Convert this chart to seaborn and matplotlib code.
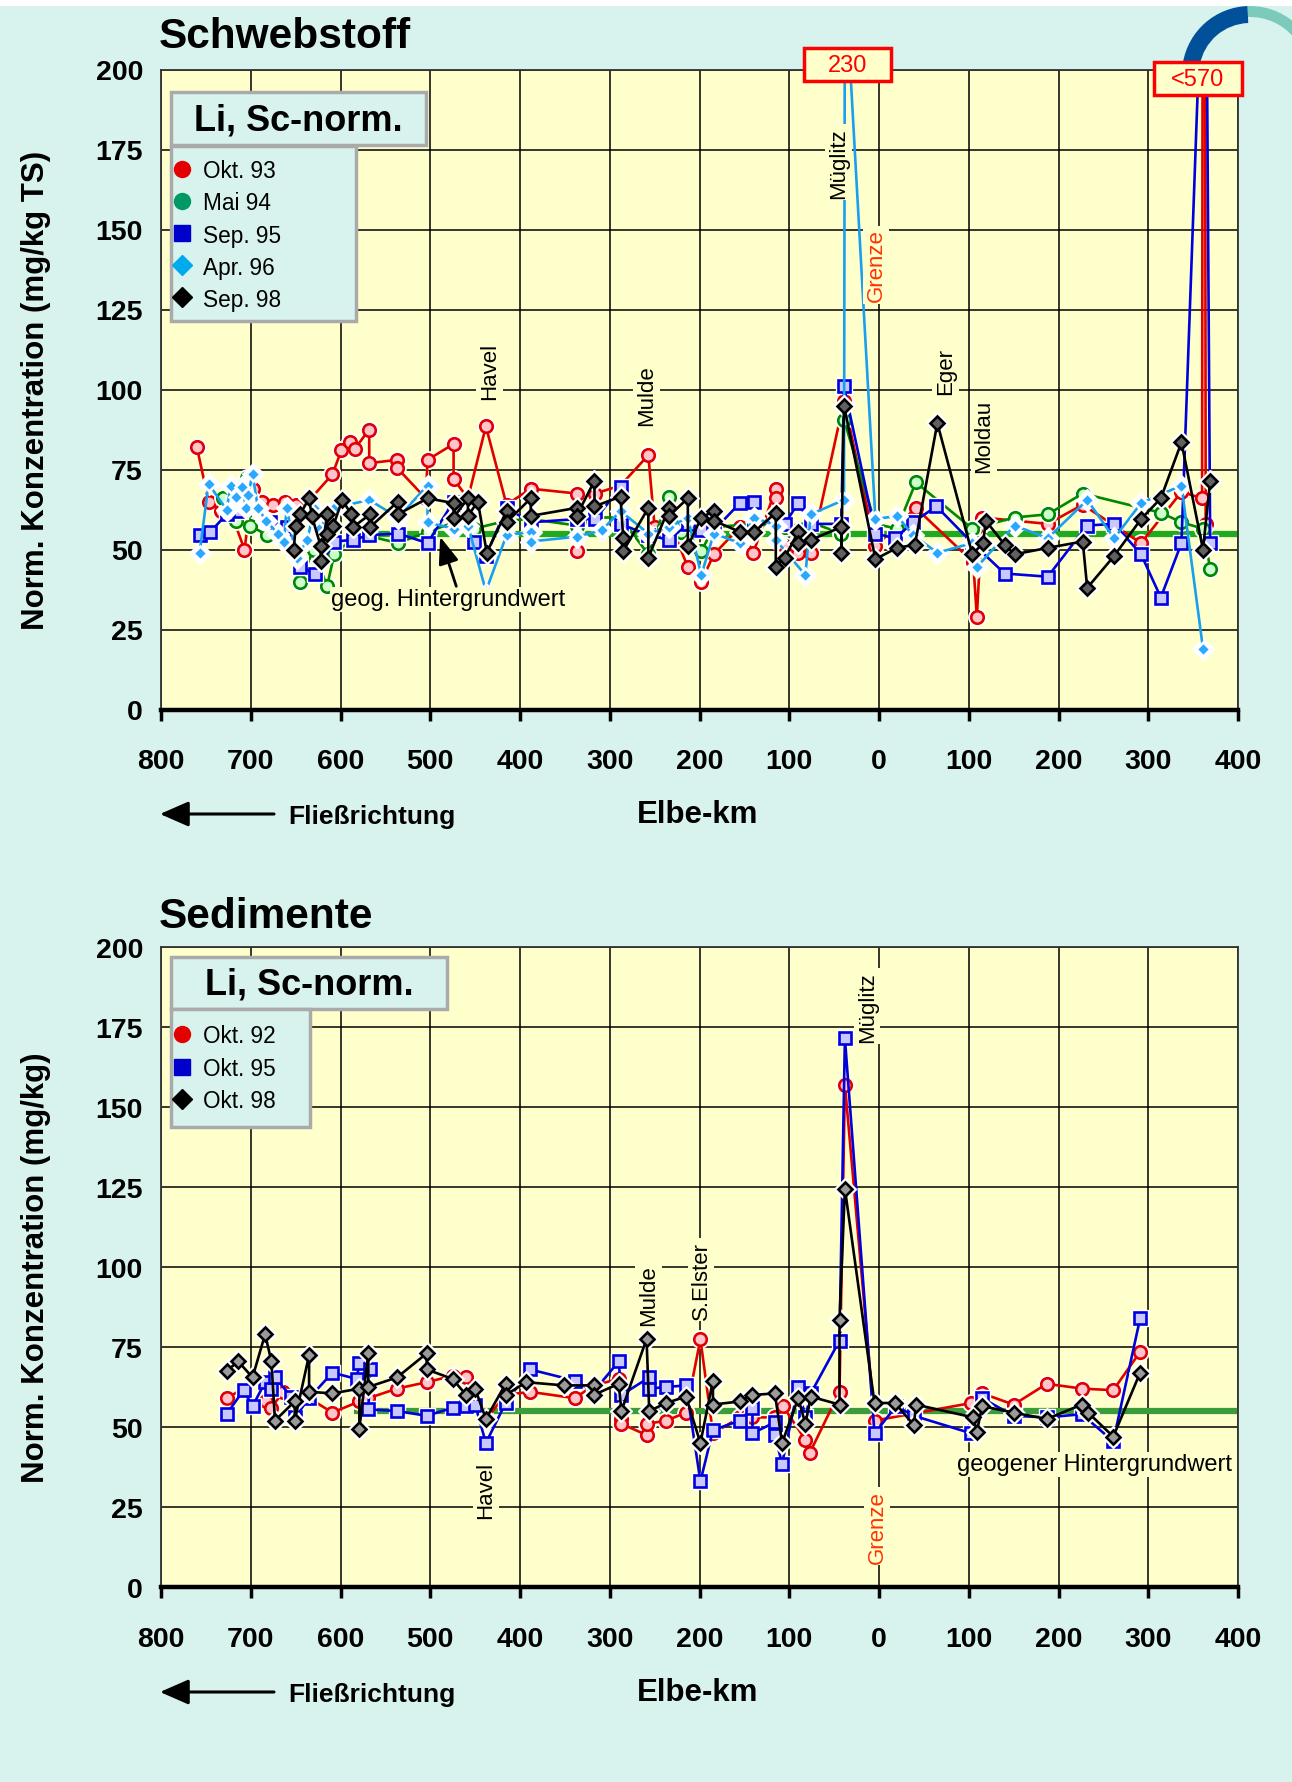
import numpy as np
import seaborn as sns
import matplotlib.pyplot as plt
from matplotlib.patches import Rectangle, Wedge

sns.set_style("white")
plt.rcParams['font.family'] = ['Liberation Sans', 'DejaVu Sans']
plt.rcParams['text.color'] = 'black'
plt.rcParams['axes.labelcolor'] = 'black'
plt.rcParams['xtick.color'] = 'black'
plt.rcParams['ytick.color'] = 'black'

# ---------------- data: Schwebstoff (suspended matter) ----------------
# x: Elbe-km, negative = German km below the border, positive = Czech km
ss93_km = [-760, -747, -733, -720, -707, -698, -688, -675, -662, -650, -636, -609, -599, -589, -584,
           -568, -568, -537, -537, -505, -503, -474, -474, -458, -438, -415, -388, -337, -337, -316,
           -288, -257, -250, -228, -213, -198, -184, -155, -140, -115, -115, -105, -90, -76, -39,
           -4, 41, 105, 109, 115, 188, 227, 292, 337, 360, 362, 364]
ss93_val = [82, 65, 62, 60, 50, 69, 65, 64, 65, 64, 65, 73.5, 81, 83.5, 81.5,
            87.5, 77, 78, 75.5, 66, 78, 83, 72, 66, 88.5, 64, 69, 67.5, 49.5, 67.5,
            70, 79.5, 57, 55, 44.5, 40, 48.5, 57, 49, 69, 66, 51, 49, 49, 96.5,
            51, 63, 46, 29, 60, 58, 64, 52, 68, 66, 570, 58]

ss94_km = [-731, -721, -716, -704, -701, -682, -660, -645, -630, -615, -607, -580, -536, -503, -473,
           -451, -415, -388, -337, -316, -288, -257, -234, -221, -198, -184, -139, -105, -76, -42,
           -39, -4, 20, 41, 104, 151, 188, 227, 314, 337, 361, 369]
ss94_val = [66, 60.5, 59, 72.5, 57.5, 54.5, 56, 40, 50, 38.5, 48.5, 55, 52, 55.5, 58.5,
            56.5, 59, 59.5, 57.5, 60, 60, 48.5, 66.5, 55.5, 49.5, 57, 58, 57, 58.5, 55,
            90.5, 58, 56.5, 71, 56.5, 60, 61, 67.5, 61.5, 58.5, 56.5, 44]

ss95_km = [-757, -745, -727, -712, -700, -678, -660, -645, -628, -607, -586, -568, -536, -503, -474,
           -451, -438, -415, -388, -337, -316, -288, -288, -257, -234, -213, -198, -184, -155, -139,
           -139, -105, -90, -76, -42, -39, -4, 18, 38, 64, 104, 140, 188, 232, 262,
           292, 314, 337, 364, 369]
ss95_val = [54.5, 55.5, 61, 62, 63.5, 58.5, 57, 44.5, 42.5, 52.5, 53, 54.5, 55, 52, 65,
            52.5, 48, 63, 58.5, 59.5, 59.5, 69.5, 58, 54.5, 53, 58, 56, 56, 64.5, 65,
            59, 58, 64.5, 58, 58, 101, 55, 53.5, 58.5, 63.5, 52, 42.5, 41.5, 57.5, 58,
            48.5, 35, 52, 263, 52]

ss96_km = [-757, -747, -727, -722, -716, -710, -705, -703, -698, -692, -683, -670, -663, -660, -649,
           -637, -629, -624, -607, -568, -536, -503, -503, -474, -458, -438, -415, -388, -388, -337,
           -309, -288, -257, -234, -213, -198, -184, -155, -139, -115, -115, -82, -76, -39, -38,
           -4, 20, 38, 65, 104, 109, 151, 188, 232, 262, 292, 337, 361]
ss96_val = [49, 70.5, 62.5, 70, 66.5, 69.5, 63, 67, 73.5, 63, 59, 55, 52.5, 63, 47.5,
            53, 63, 56.5, 63, 65.5, 60, 70, 58.5, 56.5, 57.5, 37, 54.5, 55.5, 52.5, 54,
            56, 62, 55, 57, 60, 42, 55, 52, 60, 57.5, 53, 42, 61, 65.5, 230,
            59.5, 60.5, 54.5, 49, 52, 44.5, 57.5, 53.5, 65.5, 53.5, 64.5, 70, 19]

ss98_km = [-652, -650, -645, -635, -632, -622, -622, -615, -615, -608, -598, -588, -586, -567, -567,
           -536, -536, -503, -474, -474, -458, -458, -447, -437, -415, -415, -388, -388, -337, -337,
           -317, -317, -288, -285, -285, -257, -257, -234, -234, -213, -213, -198, -184, -184, -155,
           -139, -115, -115, -105, -90, -90, -76, -42, -42, -39, -4, 20, 40, 65, 104,
           116, 119, 140, 151, 188, 227, 232, 262, 292, 314, 337, 361, 369]
ss98_val = [50, 57.5, 61, 66, 60.5, 51, 46.5, 61, 55, 57.5, 65.5, 61, 57, 61, 57,
            65, 61, 66, 64.5, 60, 66, 60.5, 65, 49, 62, 58.5, 66, 60.5, 63, 60.5,
            71.5, 63.5, 66.5, 53.5, 49.5, 63, 47.5, 63, 60.5, 66, 51, 60, 62, 59, 55.5,
            55.5, 61.5, 44.5, 47.5, 55.5, 52, 53, 57, 49, 95, 47, 50.5, 51.5, 89.5, 48.5,
            52, 59, 51.5, 48.5, 50.5, 52.5, 38, 48, 59.5, 66, 83.5, 50, 71.5]

# ---------------- data: Sedimente ----------------
sd92_km = [-727, -708, -698, -683, -677, -664, -651, -635, -609, -579, -569, -537, -504, -475, -460,
           -438, -416, -389, -339, -318, -290, -287, -287, -259, -258, -237, -215, -199, -185, -155,
           -141, -116, -107, -82, -77, -44, -38, -5, 103, 115, 150, 187, 226, 261, 291]
sd92_val = [59, 62, 57, 58, 56, 61, 54, 59, 54.5, 58, 59, 62, 64, 66, 65.5,
            52.5, 60, 61, 59, 63, 65, 52.5, 51, 47.5, 51, 52, 54.5, 77.5, 48, 53,
            53, 53, 56.5, 46, 42, 61, 157, 52, 57.5, 60.5, 57, 63.5, 62, 61.5, 73.5]

sd95_km = [-727, -708, -698, -684, -677, -673, -655, -651, -635, -609, -582, -579, -567, -569, -537,
           -504, -475, -460, -450, -438, -416, -389, -339, -318, -290, -287, -256, -256, -237, -215,
           -199, -185, -155, -141, -141, -116, -116, -108, -90, -82, -76, -44, -38, -5, 19,
           39, 103, 115, 150, 187, 226, 261, 291]
sd95_val = [54, 61.5, 56.5, 64, 62, 65.5, 59.5, 53, 59, 67, 65, 70, 68, 55.5, 55,
            53.5, 56, 56.5, 57, 45, 57.5, 68, 64.5, 61, 70.5, 60, 65.5, 62, 62.5, 63,
            33, 49, 52, 56, 48, 51.5, 47.5, 38.5, 62.5, 53, 60.5, 77, 171.5, 48, 56.5,
            53.5, 48, 59, 53.5, 53, 54, 45.5, 84]

sd98_km = [-727, -714, -698, -684, -677, -673, -651, -651, -635, -635, -609, -579, -579, -569, -569,
           -537, -504, -504, -475, -460, -450, -438, -416, -416, -393, -351, -318, -318, -290, -287,
           -259, -256, -237, -215, -199, -185, -185, -155, -141, -116, -108, -90, -82, -76, -44,
           -44, -38, -5, 18, 39, 41, 105, 109, 115, 150, 187, 226, 233, 261, 291]
sd98_val = [67.5, 70.5, 65.5, 79, 70.5, 52, 58, 52, 72.5, 61, 60.5, 62, 49.5, 73, 62.5,
            65.5, 73, 68, 65, 60, 62, 52.5, 63.5, 60, 64, 63, 63, 60, 63.5, 55,
            77.5, 55, 57.5, 59.5, 45, 64.5, 57, 58, 60, 60.5, 45, 59, 51, 59.5, 57,
            83.5, 124.5, 57.5, 57.5, 50.5, 57, 53, 48.5, 56.5, 54.5, 52.5, 57, 54.5, 47, 67]

# geogenic background value and where its line starts
bg_value = 55
bg_start_top = -570
bg_start_bottom = -585

# tributary labels (name, km, value at text centre)
trib_top_names = ['Havel', 'Mulde', 'Müglitz', 'Grenze', 'Eger', 'Moldau']
trib_top_km = [-434, -259, -45, -3, 74, 117]
trib_top_val = [106, 98.5, 171, 139, 106, 85.5]
trib_bot_names = ['Havel', 'Mulde', 'S.Elster', 'Müglitz', 'Grenze']
trib_bot_km = [-438, -257, -198, -13, -2]
trib_bot_val = [30.5, 91.5, 96, 181.5, 19]

km_ticks = list(range(-800, 401, 100))
y_ticks = list(range(0, 201, 25))

# ---------------- figure ----------------
W, H = 1292, 1783
MINT = '#d8f3ee'
YELLOW = '#ffffcc'
fig = plt.figure(figsize=(W / 100, H / 100), dpi=100, facecolor=MINT)


def px_axes(left, top, right, bottom):
    return fig.add_axes([left / W, 1 - bottom / H, (right - left) / W, (bottom - top) / H])


def style_axes(ax, ylabel):
    ax.set_facecolor(YELLOW)
    ax.set_xlim(-800, 400)
    ax.set_ylim(0, 200)
    ax.set_xticks(km_ticks)
    ax.set_xticklabels([str(abs(t)) for t in km_ticks], fontweight='bold')
    ax.set_yticks(y_ticks)
    ax.set_yticklabels([str(t) for t in y_ticks], fontweight='bold')
    ax.grid(True, color='black', lw=1.1)
    ax.set_axisbelow(True)
    for s in ['top', 'right', 'left']:
        ax.spines[s].set(color='#333333', lw=1.3, visible=True)
    ax.spines['bottom'].set(color='black', lw=3.2, visible=True)
    ax.tick_params(axis='x', bottom=True, length=8, width=2.5, color='black',
                   pad=20, labelsize=20.5, direction='out', labelcolor='black')
    ax.tick_params(axis='y', left=False, length=0, pad=13, labelsize=20.5, labelcolor='black')
    ax.set_xlabel('')
    ax.set_ylabel(ylabel, fontsize=22.5, fontweight='bold', color='black')
    ax.yaxis.set_label_coords(-0.102, 0.5)


def draw_series(ax, xs, ys, line_c, marker, ms, face, edge):
    # white halo behind the markers
    ax.plot(xs, ys, ls='none', marker=marker, ms=ms + 3.5, mfc='white', mec='white', zorder=3)
    sns.lineplot(x=xs, y=ys, ax=ax, sort=False, estimator=None, color=line_c, lw=1.9,
                 marker=marker, markersize=ms, markerfacecolor=face, markeredgecolor=edge,
                 markeredgewidth=1.9, zorder=3)


def trib_labels(ax, names, kms, vals):
    for n, k, v in zip(names, kms, vals):
        ax.text(k, v, n, rotation=90, ha='center', va='center', fontsize=16,
                color='#ff3300' if n == 'Grenze' else 'black', zorder=6,
                bbox=dict(fc=YELLOW, ec='none', pad=2))


# ---- top: Schwebstoff ----
ax1 = px_axes(161, 70.5, 1238, 710.5)
ax1.hlines(bg_value, bg_start_top, 400, color='#1faa1f', lw=4.5, zorder=2.5)
draw_series(ax1, ss93_km, ss93_val, '#e00000', 'o', 9, '#ffc4cc', '#e00000')
draw_series(ax1, ss94_km, ss94_val, '#008800', 'o', 9, '#ccffcc', '#008800')
draw_series(ax1, ss95_km, ss95_val, '#0000dd', 's', 8.5, '#c8c8ff', '#0000dd')
draw_series(ax1, ss96_km, ss96_val, '#1a9fef', 'D', 7.5, '#2aa8ff', 'white')
draw_series(ax1, ss98_km, ss98_val, 'black', 'D', 7.5, '#606060', 'black')
style_axes(ax1, 'Norm. Konzentration (mg/kg TS)')
trib_labels(ax1, trib_top_names, trib_top_km, trib_top_val)
ax1.text(-480, 34.5, 'geog. Hintergrundwert', fontsize=17, ha='center', va='center', zorder=6,
         bbox=dict(fc=YELLOW, ec='none', pad=1))
ax1.annotate('', xy=(-489, 54), xytext=(-471, 38.5), zorder=7,
             arrowprops=dict(arrowstyle='-|>,head_width=0.28,head_length=0.75', color='black',
                             lw=2, mutation_scale=22, shrinkA=0, shrinkB=0))

# ---- bottom: Sedimente ----
ax2 = px_axes(161, 948, 1238, 1588)
ax2.hlines(bg_value, bg_start_bottom, 400, color='#3a9c3a', lw=4.5, zorder=2.5)
draw_series(ax2, sd92_km, sd92_val, '#e00000', 'o', 9, '#ffc4cc', '#e00000')
draw_series(ax2, sd95_km, sd95_val, '#0000dd', 's', 8.5, '#c8c8ff', '#0000dd')
draw_series(ax2, sd98_km, sd98_val, 'black', 'D', 7.5, '#9a9a9a', 'black')
style_axes(ax2, 'Norm. Konzentration (mg/kg)')
trib_labels(ax2, trib_bot_names, trib_bot_km, trib_bot_val)
ax2.text(240, 38.4, 'geogener Hintergrundwert', fontsize=17, ha='center', va='center', zorder=6,
         bbox=dict(fc=YELLOW, ec='none', pad=1))

# ---------------- overlay in pixel coordinates ----------------
ov = fig.add_axes([0, 0, 1, 1])
ov.set_xlim(0, W)
ov.set_ylim(H, 0)
ov.axis('off')

ov.add_patch(Rectangle((0, 0), W, 7, fc='white', ec='none'))

# logo
ov.add_patch(Wedge((1250, 75), 68, 190, 268, width=17, fc='#00509a', ec='none'))
ov.add_patch(Wedge((1250, 75), 68, 268, 320, width=11, fc='#7ccabb', ec='none'))

for y_title, title in [(37, 'Schwebstoff'), (917, 'Sedimente')]:
    ov.text(159, y_title, title, fontsize=30.5, fontweight='bold', ha='left', va='center')

for y_lab in [815, 1693]:
    ov.text(698, y_lab, 'Elbe-km', fontsize=22.5, fontweight='bold', ha='center', va='center')
    ov.text(288, y_lab + 2, 'Fließrichtung', fontsize=19, fontweight='bold', ha='left', va='center')
    ov.annotate('', xy=(160, y_lab), xytext=(274, y_lab),
                arrowprops=dict(arrowstyle='-|>,head_width=0.35,head_length=0.8', color='black',
                                lw=2.2, mutation_scale=22, shrinkA=0, shrinkB=0))

# off-scale value boxes
for (x0, y0, w, h), txt in [((804, 49, 87, 33), '230'), ((1154, 63, 88, 33), '<570')]:
    ov.add_patch(Rectangle((x0, y0), w, h, fc=YELLOW, ec='red', lw=2.5, zorder=5))
    ov.text(x0 + w / 2, y0 + h / 2 + 1, txt, color='red', fontsize=17, ha='center', va='center',
            zorder=6)

# legends
legend_top = [('Okt. 93', 'o', '#e30000'), ('Mai 94', 'o', '#009966'), ('Sep. 95', 's', '#0000cc'),
              ('Apr. 96', 'D', '#00aaee'), ('Sep. 98', 'D', 'black')]
legend_bot = [('Okt. 92', 'o', '#e30000'), ('Okt. 95', 's', '#0000cc'), ('Okt. 98', 'D', 'black')]


def draw_legend(title_box, entry_box, entries, row0, step):
    tx, ty, tw, th = title_box
    ov.add_patch(Rectangle((tx, ty), tw, th, fc=MINT, ec='#aaaaaa', lw=2.5, zorder=5))
    ov.text(tx + tw / 2, ty + th / 2 + 1, 'Li, Sc-norm.', fontsize=26, fontweight='bold',
            ha='center', va='center', zorder=6)
    ex, ey, ew, eh = entry_box
    ov.add_patch(Rectangle((ex, ey), ew, eh, fc=MINT, ec='#aaaaaa', lw=2.5, zorder=5))
    for i, (lab, m, c) in enumerate(entries):
        yy = row0 + i * step
        ov.plot([182], [yy - 2], marker=m, ms=11.5 if m != 'D' else 10, color=c, mec=c, zorder=6)
        ov.text(203, yy, lab, fontsize=16.3, ha='left', va='center', zorder=6)


draw_legend((171, 93, 255, 53), (171, 147, 185, 175), legend_top, 172, 32)
draw_legend((171, 958, 276, 52), (171, 1010, 139, 118), legend_bot, 1037, 32.5)

fig.savefig('out.png', dpi=100, facecolor=MINT)
